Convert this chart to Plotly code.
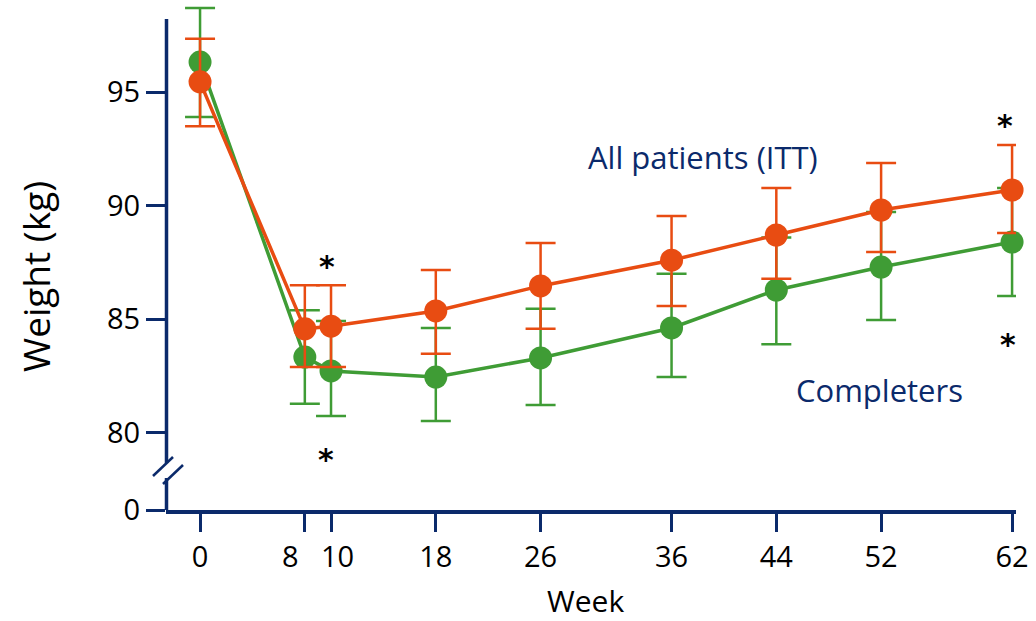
import plotly.graph_objects as go

# ---------------- data ----------------
weeks = [0, 8, 10, 18, 26, 36, 44, 52, 62]
week_ticktext = ["0", "", "", "18", "26", "36", "44", "52", "62"]
close_weeks = [8, 10]          # labels nudged apart (as in the original)
close_labels = ["8", "10"]

itt_mean = [95.45, 84.58, 84.70, 85.37, 86.47, 87.60, 88.71, 89.81, 90.69]
itt_upper = [97.35, 86.50, 86.50, 87.17, 88.36, 89.55, 90.78, 91.88, 92.67]
itt_lower = [93.50, 82.90, 82.90, 83.48, 84.58, 85.59, 86.78, 87.96, 88.80]

comp_mean = [96.32, 83.34, 82.73, 82.46, 83.30, 84.62, 86.29, 87.30, 88.40]
comp_upper = [98.70, 85.40, 84.93, 84.62, 85.46, 87.00, 88.60, 89.72, 90.78]
comp_lower = [93.90, 81.28, 80.75, 80.53, 81.23, 82.46, 83.90, 84.97, 86.03]

y_tickvals_real = [0, 80, 85, 90, 95]
ZERO_POS = 76.61   # where "0" sits on the broken axis
y_tickpos = [ZERO_POS, 80, 85, 90, 95]
y_ticktext = [str(v) for v in y_tickvals_real]

star_weeks = [10, 10, 62, 62]

# ---------------- style ----------------
ORANGE = "#E84C12"
GREEN = "#3F9C35"
NAVY = "#0B2A6B"
FONT = "Open Sans"

W, H = 1036, 621
ML, MR, MT, MB = 166, 20, 5, 111
PW, PH = W - ML - MR, H - MT - MB


def px_to_paper(px, py):
    return (px - ML) / PW, (H - MB - py) / PH


def err(mean, up, lo):
    return dict(type="data", symmetric=False,
                array=[u - m for u, m in zip(up, mean)],
                arrayminus=[m - l for m, l in zip(mean, lo)],
                thickness=2.5, width=15)


fig = go.Figure()
fig.add_trace(go.Scatter(
    x=weeks, y=comp_mean, mode="lines+markers", name="Completers",
    line=dict(color=GREEN, width=3.5),
    marker=dict(color=GREEN, size=23),
    error_y=dict(color=GREEN, **err(comp_mean, comp_upper, comp_lower)),
    cliponaxis=False))
fig.add_trace(go.Scatter(
    x=weeks, y=itt_mean, mode="lines+markers", name="All patients (ITT)",
    line=dict(color=ORANGE, width=3.5),
    marker=dict(color=ORANGE, size=23),
    error_y=dict(color=ORANGE, **err(itt_mean, itt_upper, itt_lower)),
    cliponaxis=False))

shapes = []
# y axis line with a break
x0, _ = px_to_paper(166.5, 0)
_, ytop = px_to_paper(0, 19)
_, yb1 = px_to_paper(0, 463)
_, yb2 = px_to_paper(0, 478)
shapes.append(dict(type="line", xref="paper", yref="paper", x0=x0, x1=x0, y0=yb1, y1=ytop,
                   line=dict(color=NAVY, width=3.5)))
shapes.append(dict(type="line", xref="paper", yref="paper", x0=x0, x1=x0, y0=0, y1=yb2,
                   line=dict(color=NAVY, width=3.5)))
for (ax, ay, bx, by) in [(153, 476, 173, 457), (163, 484, 183, 465)]:
    a = px_to_paper(ax, ay)
    b = px_to_paper(bx, by)
    shapes.append(dict(type="line", xref="paper", yref="paper", x0=a[0], y0=a[1], x1=b[0], y1=b[1],
                       line=dict(color=NAVY, width=2.5)))

annotations = [
    dict(text="Weight (kg)", textangle=-90, xref="paper", yref="paper",
         x=px_to_paper(35, 0)[0], y=px_to_paper(0, 277)[1], showarrow=False,
         font=dict(family=FONT, size=37, color="#000000"), xanchor="center", yanchor="middle"),
    dict(text="Week", xref="paper", yref="paper",
         x=px_to_paper(585, 0)[0], y=px_to_paper(0, 600)[1], showarrow=False,
         font=dict(family=FONT, size=30, color="#000000"), xanchor="center", yanchor="middle"),
    dict(text="All patients (ITT)", x=38.4, y=92.14, showarrow=False,
         font=dict(family=FONT, size=31, color=NAVY), xanchor="center", yanchor="middle"),
    dict(text="Completers", x=51.9, y=81.9, showarrow=False,
         font=dict(family=FONT, size=31, color=NAVY), xanchor="center", yanchor="middle"),
]
# nudged tick labels for weeks 8 and 10
for wk, lab, dx in zip(close_weeks, close_labels, [-14, 6]):
    annotations.append(dict(text=lab, x=wk, xref="x", y=0, yref="paper", yshift=-45, xshift=dx,
                            showarrow=False, xanchor="center", yanchor="middle",
                            font=dict(family=FONT, size=29, color="#000000")))
# significance asterisks (positioned relative to error bar ends)
star_specs = [
    (star_weeks[0], itt_upper[2], 27, -4),
    (star_weeks[1], comp_lower[2], -36, -5),
    (star_weeks[2], itt_upper[8], 28, -7),
    (star_weeks[3], comp_lower[8], -41, -4),
]
for wk, yv, dy, dx in star_specs:
    annotations.append(dict(text="<b>*</b>", x=wk, y=yv, yshift=dy - 8, xshift=dx, showarrow=False,
                            font=dict(family="DejaVu Sans", size=30, color="#000000"),
                            xanchor="center", yanchor="middle"))

fig.update_layout(
    width=W, height=H,
    margin=dict(l=ML, r=MR, t=MT, b=MB, pad=0, autoexpand=False),
    paper_bgcolor="white", plot_bgcolor="white",
    showlegend=False,
    shapes=shapes, annotations=annotations,
    xaxis=dict(range=[-2.6, 62.3], tickvals=weeks, ticktext=week_ticktext,
               tickangle=0, automargin=False,
               showline=True, linecolor=NAVY, linewidth=3.5,
               ticks="outside", ticklen=18, tickwidth=3, tickcolor=NAVY,
               showgrid=False, zeroline=False,
               tickfont=dict(family=FONT, size=29, color="#000000")),
    yaxis=dict(range=[ZERO_POS, 98.83], tickvals=y_tickpos, ticktext=y_ticktext,
               automargin=False,
               showline=False, ticks="outside", ticklen=19, tickwidth=3, tickcolor=NAVY,
               showgrid=False, zeroline=False,
               tickfont=dict(family=FONT, size=29, color="#000000")),
)

fig.write_html("out.html", config={"displayModeBar": False},
               post_script="document.body.style.margin='0px';")
